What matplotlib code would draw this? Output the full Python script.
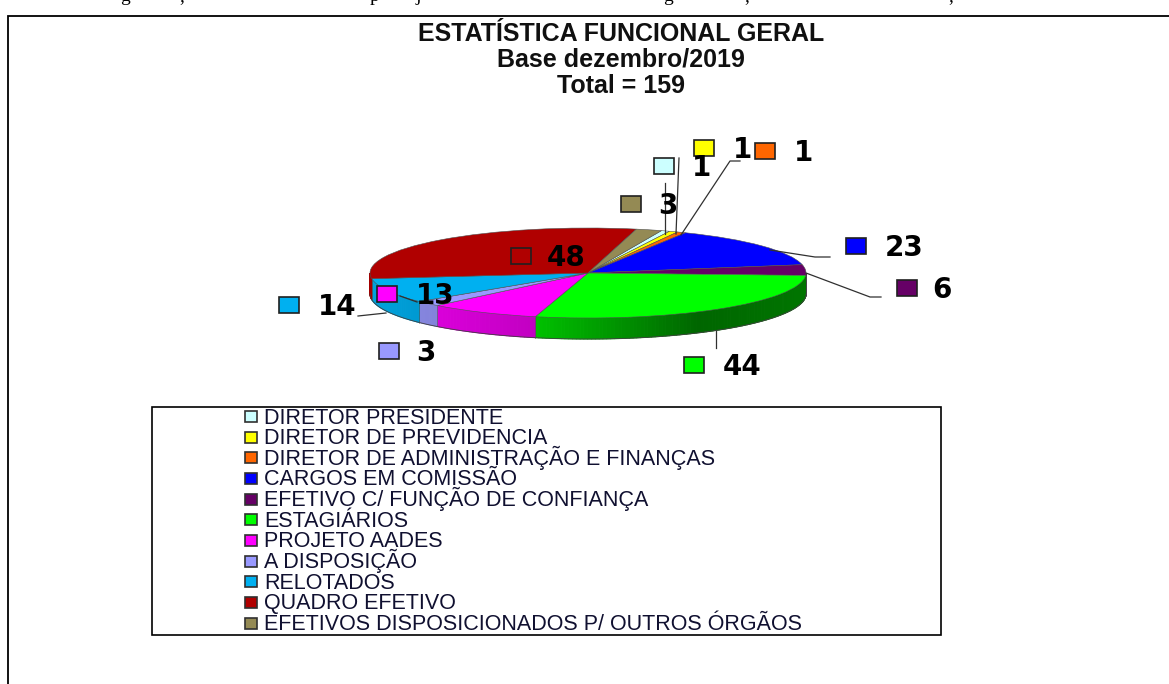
import numpy as np
import matplotlib
matplotlib.use('Agg')
import matplotlib.pyplot as plt
from matplotlib.patches import Wedge, Polygon, Rectangle

W, H = 1169, 684

categories = ['DIRETOR PRESIDENTE', 'DIRETOR DE PREVIDENCIA', 'DIRETOR DE ADMINISTRAÇÃO E FINANÇAS',
              'CARGOS EM COMISSÃO', 'EFETIVO C/ FUNÇÃO DE CONFIANÇA', 'ESTAGIÁRIOS', 'PROJETO AADES',
              'A DISPOSIÇÃO', 'RELOTADOS', 'QUADRO EFETIVO', 'EFETIVOS DISPOSICIONADOS P/ OUTROS ÓRGÃOS']
values = [1, 1, 1, 23, 6, 44, 13, 3, 14, 48, 3]
colors = ['#CCFFFF', '#FFFF00', '#FF6600', '#0000FF', '#660066', '#00FF00', '#FF00FF',
          '#9999FF', '#00B0F0', '#B00000', '#948A54']
title_lines = ['ESTATÍSTICA FUNCIONAL GERAL', 'Base dezembro/2019', 'Total = 159']

# where the data labels sit, in pixels: swatch x, swatch y, text x
label_pos = [(664, 166, 692), (704, 148, 733), (765, 151, 794), (856, 246, 885), (907, 288, 932),
             (694, 365, 723), (387, 294, 416), (389, 351, 416), (289, 305, 318), (521, 256, 547),
             (631, 204, 658)]
leaders = [[(665, 183), (665, 234)], [(679, 158), (676, 234)], [(740, 161), (730, 161), (681, 235)],
           [(830, 257), (815, 257), (770, 250)], [(881, 297), (870, 297), (806, 273)],
           [(716, 348), (716, 331)], [(400, 296), (417, 302)], [],
           [(358, 316), (386, 313)], [], []]

fig = plt.figure(figsize=(W / 100, H / 100), dpi=100)
plt.rcParams['font.family'] = ['Liberation Sans', 'DejaVu Sans']

# pixel canvas for frame, text and legend
canvas = fig.add_axes([0, 0, 1, 1], zorder=1)
canvas.set_xlim(0, W)
canvas.set_ylim(H, 0)
canvas.axis('off')
canvas.patch.set_alpha(0)

# pie axes: the unit circle squashes to an ellipse
cx, cy, rx, ry, depth = 588, 273, 218, 45, 21
pie = fig.add_axes([(cx - rx) / W, 1 - (cy + ry) / H, 2 * rx / W, 2 * ry / H], zorder=0)
pie.set_xlim(-1, 1)
pie.set_ylim(-1, 1)
pie.axis('off')

drop = 2 * depth / (2 * ry)
vals = np.array(values, dtype=float)
sweep = vals / vals.sum() * 360
start = 19.7
edges = start + np.concatenate([[0], np.cumsum(sweep)])


def shade(color, x):
    # side wall lighting, brightest on the left
    rgb = np.array(matplotlib.colors.to_rgb(color))
    return rgb * np.interp(x, [-1, -0.25, 0.5, 1], [0.92, 0.76, 0.40, 0.46])


# side wall, only the front half of the rim
for i, color in enumerate(colors):
    a0, a1 = edges[i], edges[i + 1]
    lo, hi = max(a0, 90), min(a1, 270)
    if hi <= lo:
        continue
    steps = np.arange(lo, hi, 1.0).tolist() + [hi]
    for s0, s1 in zip(steps[:-1], steps[1:]):
        x0, y0 = np.sin(np.radians(s0)), np.cos(np.radians(s0))
        x1, y1 = np.sin(np.radians(s1)), np.cos(np.radians(s1))
        c = shade(color, (x0 + x1) / 2)
        pie.add_patch(Polygon([(x0, y0), (x1, y1), (x1, y1 - drop), (x0, y0 - drop)],
                              fc=c, ec=c, lw=0.8, clip_on=False, zorder=1))
    xs = np.sin(np.radians(steps))
    ys = np.cos(np.radians(steps)) - drop
    pie.plot(xs, ys, color='#404040', lw=0.6, clip_on=False, zorder=2)
    pie.plot([xs[0], xs[0]], [ys[0], ys[0] + drop], color='#505050', lw=0.4, clip_on=False, zorder=2)

# top face, clockwise like the original
for i, color in enumerate(colors):
    pie.add_patch(Wedge((0, 0), 1, 90 - edges[i + 1], 90 - edges[i], fc=color, ec='#505050', lw=0.4,
                        clip_on=False, zorder=3))

# frame of the document page
canvas.plot([8, 8, W], [H, 16, 16], color='black', lw=1.3, solid_joinstyle='miter', clip_on=False)
# descenders of the cut off line above the frame
for ch, x in [('g', 125), (',', 182), ('p', 375), ('j', 418), ('g', 668), (',', 747), (',', 951)]:
    canvas.text(x, 1, ch, family='Liberation Serif', fontsize=14, ha='center', va='baseline')

for j, line in enumerate(title_lines):
    canvas.text(621, 41 + j * 25.8, line, fontweight='bold', fontsize=18, ha='center', va='baseline',
                color='#101010')

# data labels
for seg in leaders:
    if seg:
        canvas.plot(*zip(*seg), color='#303030', lw=0.9, zorder=4)
for i, (sx, sy, tx) in enumerate(label_pos):
    canvas.add_patch(Rectangle((sx - 10, sy - 8), 20, 16, fc=colors[i], ec='#202020', lw=1.2, zorder=5))
    canvas.text(tx, sy + 10, str(values[i]), family='DejaVu Sans', fontweight='bold', fontsize=20,
                ha='left', va='baseline', zorder=6, color='black')

# legend box
canvas.add_patch(Rectangle((152, 407), 789, 228, fc='white', ec='black', lw=1.2))
for i, name in enumerate(categories):
    y = 416.5 + i * 20.65
    canvas.add_patch(Rectangle((245, y - 5.5), 12, 11, fc=colors[i], ec='#303030', lw=1.2))
    canvas.text(264, y + 7, name, fontsize=15.5, ha='left', va='baseline', color='#101030')

fig.savefig('out.png', dpi=100)
